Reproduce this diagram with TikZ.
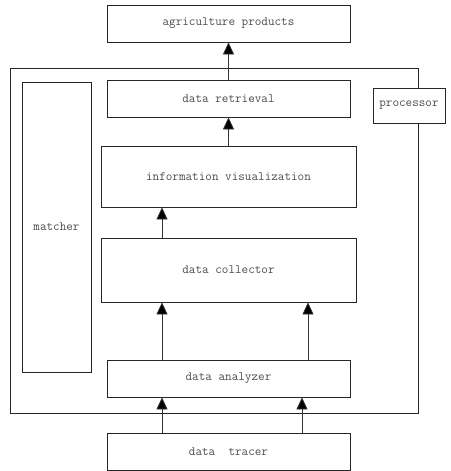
\documentclass[tikz,border=0pt]{standalone}
\usetikzlibrary{arrows.meta}
\begin{document}
\begin{tikzpicture}[x=1pt,y=-1pt,
  blk/.style={draw=black!85,line width=0.8pt,inner sep=0pt,fill=white,
    font=\ttfamily\fontsize{12.8}{14}\selectfont,text=black!70},
  arr/.style={draw=black!80,line width=0.8pt,-{Triangle[width=11pt,length=12pt,fill=black]}}]
\useasboundingbox (0,0) rectangle (450,471);
% enclosing processor frame
\node[blk,fill=none,minimum width=408pt,minimum height=345pt] (frame) at (214,240.5) {};
% blocks
\node[blk,minimum width=243pt,minimum height=37pt] (agri) at (228.5,23.5) {agriculture products};
\node[blk,minimum width=72pt,minimum height=35pt] (proc) at (409,105.5) {processor};
\node[blk,minimum width=243pt,minimum height=37pt] (retr) at (228.5,98.5) {data retrieval};
\node[blk,minimum width=255pt,minimum height=61pt] (vis) at (228.5,176.5) {information visualization};
\node[blk,minimum width=255pt,minimum height=64pt] (coll) at (228.5,270) {data collector};
\node[blk,minimum width=243pt,minimum height=37pt] (ana) at (228.5,378.5) {data analyzer};
\node[blk,minimum width=243pt,minimum height=37pt] (trac) at (228.5,451.5) {data\ \ tracer};
\node[blk,minimum width=69pt,minimum height=290pt] (match) at (56.5,227) {matcher};
% column positions of the side-by-side arrows
\coordinate (xa) at (162,0);
\coordinate (xb) at (308,0);
\coordinate (xc) at (302,0);
% connectors
\draw[arr] (retr.north) -- (agri.south);
\draw[arr] (vis.north) -- (retr.south);
\draw[arr] (coll.north -| xa) -- (vis.south -| xa);
\draw[arr] (ana.north -| xa) -- (coll.south -| xa);
\draw[arr] (ana.north -| xb) -- (coll.south -| xb);
\draw[arr] (trac.north -| xa) -- (ana.south -| xa);
\draw[arr] (trac.north -| xc) -- (ana.south -| xc);
\end{tikzpicture}
\end{document}
